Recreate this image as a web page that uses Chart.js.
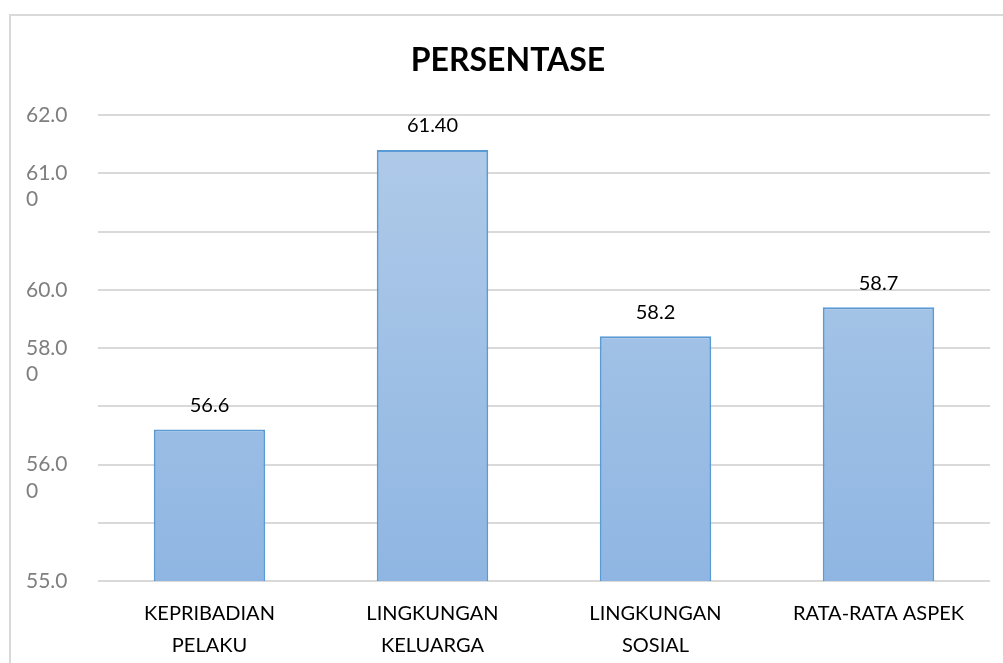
<!DOCTYPE html>
<html>
<head>
<meta charset="utf-8">
<script src="https://cdn.jsdelivr.net/npm/chart.js@4"></script>
<style>
  html, body { margin: 0; padding: 0; background: #fff; overflow: hidden; }
  #frame { position: absolute; left: 9px; top: 14px; width: 1100px; height: 700px; border: 2px solid #d9d9d9; }
  #wrap { position: absolute; left: 0; top: 0; width: 1003px; height: 663px; }
</style>
</head>
<body>
<div id="frame"></div>
<div id="wrap"><canvas id="barChart"></canvas></div>
<script>
// categories and values
var categories = [['KEPRIBADIAN', 'PELAKU'], ['LINGKUNGAN', 'KELUARGA'], ['LINGKUNGAN', 'SOSIAL'], 'RATA-RATA ASPEK'];
var values = [56.6, 61.4, 58.2, 58.7];
var valueLabels = ['56.6', '61.40', '58.2', '58.7'];

// axis runs 54..62, step 1; the printed tick texts are as shown in the original
var tickValues = [54, 55, 56, 57, 58, 59, 60, 61, 62];
var tickLabels = ['55.0', '', ['', '56.0', '0'], '', ['', '58.0', '0'], '60.0', '', ['', '61.0', '0'], '62.0'];

var font = "Lato, 'Open Sans', sans-serif";

// draws the value text above each bar
var barValues = {
    id: 'barValues',
    afterDatasetsDraw: function(chart) {
        var ctx = chart.ctx;
        var meta = chart.getDatasetMeta(0);
        ctx.save();
        ctx.font = '20px ' + font;
        ctx.fillStyle = '#000';
        ctx.textAlign = 'center';
        ctx.textBaseline = 'middle';
        meta.data.forEach(function(bar, i) {
            ctx.fillText(valueLabels[i], bar.x, bar.y - 24);
        });
        ctx.restore();
    }
};

var ctx = document.getElementById('barChart').getContext('2d');
var chart = new Chart(ctx, {
    type: 'bar',
    data: {
        labels: categories,
        datasets: [{
            label: 'PERSENTASE',
            data: values,
            backgroundColor: function(c) {
                var area = c.chart.chartArea;
                if (!area) return '#a3c1e6';
                var g = c.chart.ctx.createLinearGradient(0, area.top, 0, area.bottom);
                g.addColorStop(0, '#b1cbe9');
                g.addColorStop(1, '#8fb6e2');
                return g;
            },
            borderColor: '#5b9bd5',
            borderWidth: 2,
            borderSkipped: 'bottom',
            categoryPercentage: 1,
            barPercentage: 0.5
        }]
    },
    options: {
        responsive: true,
        maintainAspectRatio: false,
        animation: false,
        layout: { padding: { top: 41, left: 26, right: 13, bottom: 0 } },
        plugins: {
            legend: { display: false },
            tooltip: { enabled: false },
            title: {
                display: true,
                text: 'PERSENTASE',
                color: '#000',
                font: { family: font, size: 32, weight: 'bold', lineHeight: 1.2 },
                padding: { top: 0, bottom: 35.6 }
            }
        },
        scales: {
            x: {
                grid: { display: false },
                border: { display: false },
                ticks: {
                    color: '#000',
                    font: { family: font, size: 20, lineHeight: 1.6 },
                    padding: 9,
                    maxRotation: 0
                },
                afterFit: function(scale) { scale.height = 82; }
            },
            y: {
                min: 54,
                max: 62,
                border: { display: false },
                grid: { color: '#d9d9d9', lineWidth: 2, drawTicks: false },
                afterBuildTicks: function(scale) {
                    scale.ticks = tickValues.map(function(v) { return { value: v }; });
                },
                ticks: {
                    autoSkip: false,
                    color: '#7f7f7f',
                    crossAlign: 'far',
                    padding: 0,
                    font: { family: font, size: 21, lineHeight: 1.25 },
                    callback: function(value, index) { return tickLabels[index]; }
                },
                afterFit: function(scale) { scale.width = 72; }
            }
        }
    },
    plugins: [barValues]
});
</script>
</body>
</html>
